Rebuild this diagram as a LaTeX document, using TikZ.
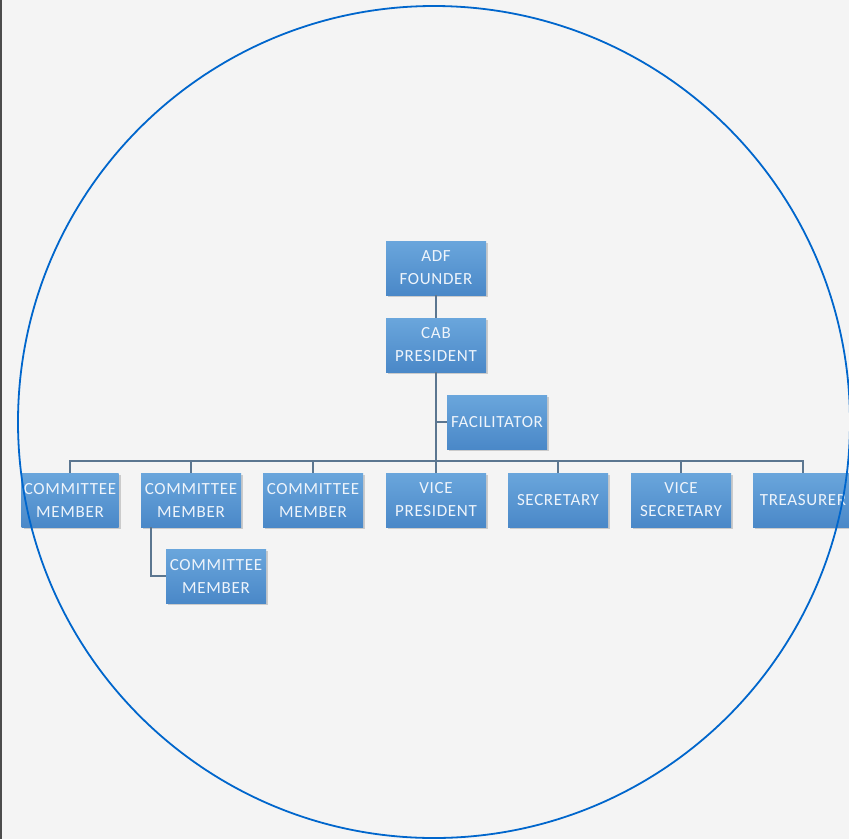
\documentclass[tikz,border=0pt]{standalone}
\usepackage{fontspec}
\setmainfont[LetterSpace=4]{Carlito}
\usetikzlibrary{shadows}
\definecolor{bg}{HTML}{F4F4F4}
\definecolor{boxtop}{HTML}{6AA6DC}
\definecolor{boxbot}{HTML}{4A88C8}
\definecolor{conn}{HTML}{5B7690}
\definecolor{ring}{HTML}{0066CC}
\definecolor{txt}{HTML}{EEF4FB}
\tikzset{
  orgbox/.style={draw=none, top color=boxtop, bottom color=boxbot,
    minimum width=100pt, minimum height=54pt, inner sep=0pt,
    align=center, text=txt, font=\fontsize{17pt}{23pt}\selectfont,
    drop shadow={shadow xshift=2pt, shadow yshift=-2pt, opacity=0.35}},
  link/.style={draw=conn, line width=1.1pt}
}
\begin{document}
\begin{tikzpicture}[x=1pt,y=-1pt]
\fill[bg] (0,0) rectangle (849,839);
\useasboundingbox (0,0) rectangle (849,839);
\draw[line width=1.6pt, black!70] (0.8,0) -- (0.8,839);
\node[orgbox] (adf) at (436,268) {ADF\\FOUNDER};
\node[orgbox] (cab) at (436,345) {CAB\\PRESIDENT};
\node[orgbox] (fac) at (497,422) {FACILITATOR};
\node[orgbox, minimum width=97pt] (cm1) at (70,500) {COMMITTEE\\MEMBER};
\node[orgbox] (cm2) at (191,500) {COMMITTEE\\MEMBER};
\node[orgbox] (cm3) at (313,500) {COMMITTEE\\MEMBER};
\node[orgbox] (vp) at (436,500) {VICE\\PRESIDENT};
\node[orgbox] (sec) at (558,500) {SECRETARY};
\node[orgbox] (vs) at (681,500) {VICE\\SECRETARY};
\node[orgbox] (tre) at (803,500) {TREASURER};
\node[orgbox] (cm4) at (216,576) {COMMITTEE\\MEMBER};
\coordinate (bus) at (436,461);
\draw[link] (adf) -- (cab);
\draw[link] (cab) -- (bus);
\draw[link] (fac.west) -- (fac.west -| cab);
\draw[link] (cm1.north) |- (bus) -| (tre.north);
\foreach \n in {cm2,cm3,vp,sec,vs} \draw[link] (\n.north) -- (\n.north |- bus);
\draw[link] ([xshift=-40pt]cm2.south) |- (cm4.west);
\draw[ring, line width=1.8pt] (434,422) circle (416);
\end{tikzpicture}
\end{document}
